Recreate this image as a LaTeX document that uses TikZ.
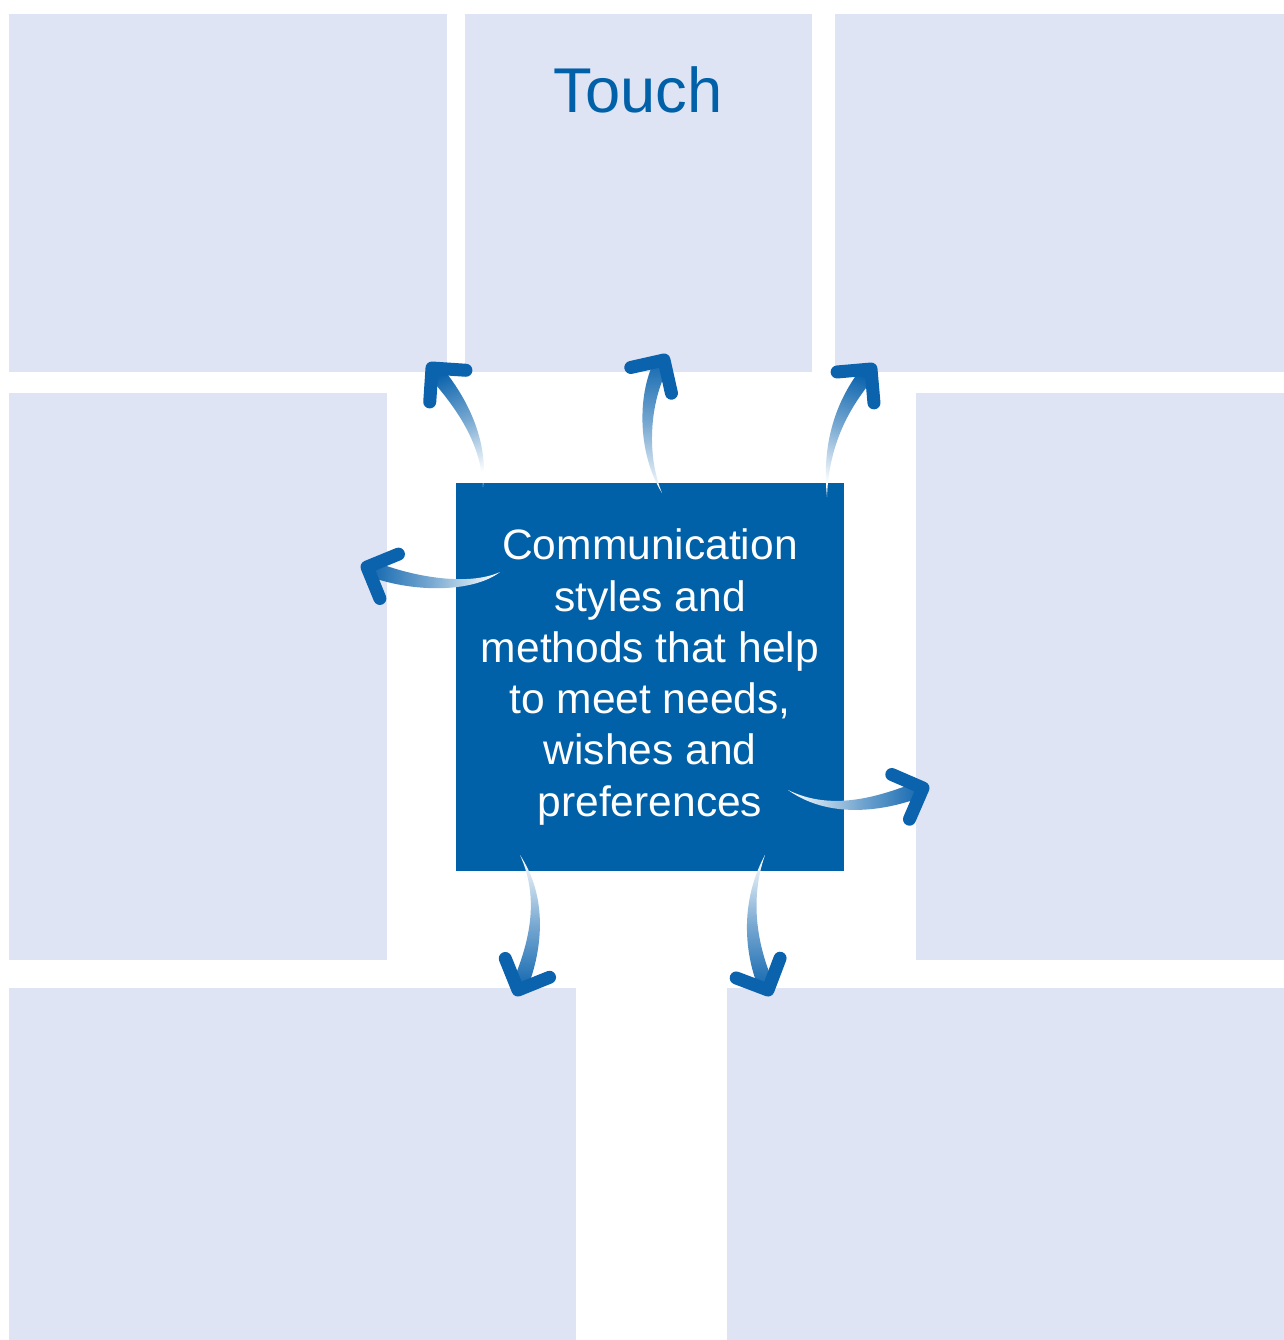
\documentclass[tikz,border=0pt]{standalone}
\usepackage{fontspec}
\setmainfont{Liberation Sans}
\usetikzlibrary{calc}
\definecolor{panelblue}{HTML}{DFE4F4}
\definecolor{boxblue}{HTML}{0060A8}
\definecolor{arrowblue}{HTML}{0B63AD}
\tikzset{
  panel/.style={fill=panelblue},
  arrowhead/.style={draw=arrowblue, line width=1.3mm, line cap=round, line join=round},
}
% tapered, shaded arrow: start, control 1, control 2, tip, shading angle
\newcommand{\commarrow}[5]{%
  \shade[top color=arrowblue, bottom color=white, middle color=arrowblue!55!white, shading angle=#5]
    (#1) .. controls ($(#2)!0.4mm!90:(#1)$) and ($(#3)!0.8mm!90:(#2)$) .. ($(#4)!0.8mm!90:(#3)$)
    -- ($(#4)!0.8mm!-90:(#3)$) .. controls ($(#3)!0.8mm!-90:(#2)$) and ($(#2)!0.4mm!-90:(#1)$) .. (#1) -- cycle;
  \draw[arrowhead] ($(#4)!3.4mm!45:(#3)$) -- (#4) -- ($(#4)!3.4mm!-45:(#3)$);
}

\begin{document}
\begin{tikzpicture}[x=0.1mm, y=-0.1mm] %% communication map
\useasboundingbox (0,0) rectangle (1284,1340);
\fill[white] (0,0) rectangle (1284,1340);
\fill[panel] (9,14) rectangle (447,372);
\fill[panel] (465,14) rectangle (812,372);
\fill[panel] (835,14) rectangle (1284,372);
\fill[panel] (9,393) rectangle (387,960);
\fill[panel] (916,393) rectangle (1284,960);
\fill[panel] (9,988) rectangle (576,1340);
\fill[panel] (727,988) rectangle (1284,1340);
\node[text=boxblue, font=\fontsize{18}{20}\selectfont] (touch) at (638,90) {Touch};
\node[fill=boxblue, minimum width=38.8mm, minimum height=38.8mm, inner sep=0pt,
      text=white, align=center, font=\fontsize{12.1}{14.6}\selectfont] (centre) at (650,677)
  {Communication\\styles and\\methods that help\\to meet needs,\\wishes and\\preferences};
% arrow ends
\coordinate (s1) at (483,487);  \coordinate (t1) at (432,368);
\coordinate (s2) at (662,493);  \coordinate (t2) at (664,360);
\coordinate (s3) at (827,497);  \coordinate (t3) at (871,369);
\coordinate (s4) at (500,572);  \coordinate (t4) at (367,567);
\coordinate (s5) at (788,790);  \coordinate (t5) at (923,788);
\coordinate (s6) at (520,855);  \coordinate (t6) at (518,990);
\coordinate (s7) at (765,855);  \coordinate (t7) at (768,990);
\commarrow{s1}{485,440}{460,400}{t1}{23}
\commarrow{s2}{640,450}{645,390}{t2}{0}
\commarrow{s3}{825,440}{845,400}{t3}{-19}
\commarrow{s4}{470,590}{410,585}{t4}{88}
\commarrow{s5}{830,815}{880,805}{t5}{-90}
\commarrow{s6}{545,900}{535,950}{t6}{180}
\commarrow{s7}{745,900}{750,950}{t7}{180}
\end{tikzpicture}
\end{document}
